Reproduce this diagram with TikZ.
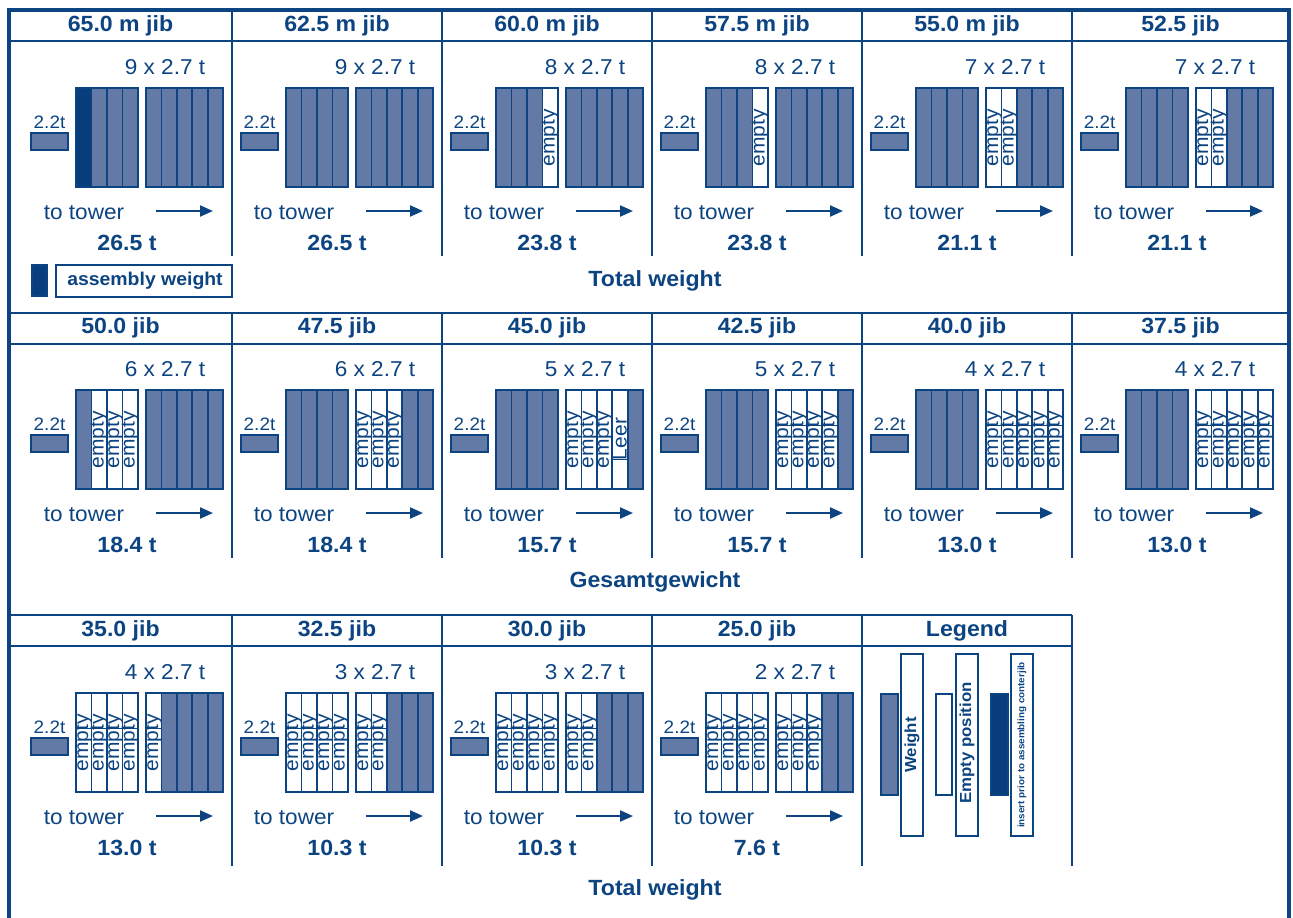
\documentclass[tikz,border=0pt]{standalone}
\usepackage{fontspec}
\setmainfont{Liberation Sans}[FakeStretch=1.05]
\usetikzlibrary{arrows.meta}
\definecolor{navy}{RGB}{12,68,130}
\definecolor{mid}{RGB}{99,121,166}
\definecolor{dark}{RGB}{8,62,124}
\tikzset{
  gridline/.style={draw=navy, line width=2.2pt},
  frameline/.style={draw=navy, line width=3.5pt, line join=miter},
  slotF/.style={fill=mid, draw=navy, line width=1.8pt},
  slotD/.style={fill=dark, draw=navy, line width=1.8pt},
  slotE/.style={fill=white, draw=navy, line width=1.8pt},
  slotL/.style={fill=white, draw=navy, line width=1.8pt},
  blockline/.style={draw=navy, line width=2.4pt},
  legline/.style={draw=navy, line width=2pt},
  thinline/.style={draw=navy, line width=0.7pt},
  txt/.style={text=navy, inner sep=0pt, font=\fontsize{21.5}{24}\selectfont},
  btxt/.style={text=navy, inner sep=0pt, font=\bfseries\fontsize{22}{24}\selectfont},
  smalltxt/.style={text=navy, inner sep=0pt, font=\fontsize{18}{20}\selectfont},
  slottxt/.style={text=navy, inner sep=0pt, rotate=90, font=\fontsize{20}{22}\selectfont},
  legtxt/.style={text=navy, inner sep=0pt, rotate=90, font=\bfseries\fontsize{16}{18}\selectfont},
  arr/.style={draw=navy, line width=2.2pt, -{Triangle[length=13pt,width=11pt]}},
}
% #1 column, #2 row offset, #3 header, #4 count, #5 total, #6 block 1, #7 block 2, #8 id, #9 thin line flag
\newcommand{\jibcol}[9]{%
  \pgfmathsetmacro{\xo}{31+210*#1}%
  \ifcase#1 \def\hx{120.5}\or\def\hx{337}\or\def\hx{547}\or\def\hx{757}\or\def\hx{967}\or\def\hx{1180.5}\fi
  \node[btxt] (h#8) at (\hx, 25.5+#2) {#3};
  \node[txt] (n#8) at (\xo+134, 67+#2) {#4};
  \node[smalltxt] (s#8) at (\xo+18.5, 122+#2) {2.2t};
  \path[slotF] (\xo, 133+#2) rectangle (\xo+37, 150+#2);
  \foreach \s [count=\i from 0] in {#6} {
    \path[slot\s] (\xo+45+15.5*\i, 88+#2) rectangle ++(15.5, 99);
    \if\s E\node[slottxt] (e#8a\i) at (\xo+45+15.5*\i+7.75, 138+#2) {empty};
      \ifnum#9=1 \draw[thinline] (\xo+45+15.5*\i, 123+#2) -- ++(15.5,0);\fi\fi
  }
  \foreach \s [count=\i from 0] in {#7} {
    \path[slot\s] (\xo+115+15.4*\i, 88+#2) rectangle ++(15.4, 99);
    \if\s E\node[slottxt] (e#8b\i) at (\xo+115+15.4*\i+7.7, 138+#2) {empty};
      \ifnum#9=1 \draw[thinline] (\xo+115+15.4*\i, 123+#2) -- ++(15.4,0);\fi\fi
    \if\s L\node[slottxt] (l#8b\i) at (\xo+115+15.4*\i+7.7, 137+#2) {Leer};
      \draw[thinline] (\xo+115+15.4*\i, 157+#2) -- ++(15.4,0);\fi
  }
  \draw[blockline] (\xo+45, 88+#2) rectangle (\xo+107, 187+#2);
  \draw[blockline] (\xo+115, 88+#2) rectangle (\xo+192, 187+#2);
  \node[txt] (t#8) at (\xo+53, 213+#2) {to tower};
  \coordinate (p#8) at (\xo+125, 211+#2);
  \coordinate (q#8) at (\xo+182, 211+#2);
  \draw[arr] (p#8) -- (q#8);
  \node[btxt] (w#8) at (\xo+96, 243+#2) {#5};
}
\begin{document}
\begin{tikzpicture}[x=1pt, y=-1pt]
  \useasboundingbox (0,0) rectangle (1293,918);
  % frame
  \draw[frameline] (9,918) -- (9,10) -- (1289,10) -- (1289,918);
  % row 1 grid
  \draw[gridline] (9,41) -- (1289,41);
  \foreach \x in {232,442,652,862,1072} \draw[gridline] (\x,10) -- (\x,256);
  % row 2 grid
  \draw[gridline] (9,313) -- (1289,313);
  \draw[gridline] (9,344) -- (1289,344);
  \foreach \x in {232,442,652,862,1072} \draw[gridline] (\x,313) -- (\x,558);
  % row 3 grid
  \draw[gridline] (9,615) -- (1072,615);
  \draw[gridline] (9,646) -- (1072,646);
  \foreach \x in {232,442,652,862,1072} \draw[gridline] (\x,615) -- (\x,866);

  \jibcol{0}{0}{65.0 m jib}{9 x 2.7 t}{26.5 t}{D,F,F,F}{F,F,F,F,F}{a1}{0}
  \jibcol{1}{0}{62.5 m jib}{9 x 2.7 t}{26.5 t}{F,F,F,F}{F,F,F,F,F}{a2}{0}
  \jibcol{2}{0}{60.0 m jib}{8 x 2.7 t}{23.8 t}{F,F,F,E}{F,F,F,F,F}{a3}{0}
  \jibcol{3}{0}{57.5 m jib}{8 x 2.7 t}{23.8 t}{F,F,F,E}{F,F,F,F,F}{a4}{0}
  \jibcol{4}{0}{55.0 m jib}{7 x 2.7 t}{21.1 t}{F,F,F,F}{E,E,F,F,F}{a5}{0}
  \jibcol{5}{0}{52.5 jib}{7 x 2.7 t}{21.1 t}{F,F,F,F}{E,E,F,F,F}{a6}{0}

  \jibcol{0}{302}{50.0 jib}{6 x 2.7 t}{18.4 t}{F,E,E,E}{F,F,F,F,F}{b1}{0}
  \jibcol{1}{302}{47.5 jib}{6 x 2.7 t}{18.4 t}{F,F,F,F}{E,E,E,F,F}{b2}{0}
  \jibcol{2}{302}{45.0 jib}{5 x 2.7 t}{15.7 t}{F,F,F,F}{E,E,E,L,F}{b3}{0}
  \jibcol{3}{302}{42.5 jib}{5 x 2.7 t}{15.7 t}{F,F,F,F}{E,E,E,E,F}{b4}{1}
  \jibcol{4}{302}{40.0 jib}{4 x 2.7 t}{13.0 t}{F,F,F,F}{E,E,E,E,E}{b5}{1}
  \jibcol{5}{302}{37.5 jib}{4 x 2.7 t}{13.0 t}{F,F,F,F}{E,E,E,E,E}{b6}{1}

  \jibcol{0}{605}{35.0 jib}{4 x 2.7 t}{13.0 t}{E,E,E,E}{E,F,F,F,F}{c1}{1}
  \jibcol{1}{605}{32.5 jib}{3 x 2.7 t}{10.3 t}{E,E,E,E}{E,E,F,F,F}{c2}{1}
  \jibcol{2}{605}{30.0 jib}{3 x 2.7 t}{10.3 t}{E,E,E,E}{E,E,F,F,F}{c3}{1}
  \jibcol{3}{605}{25.0 jib}{2 x 2.7 t}{7.6 t}{E,E,E,E}{E,E,E,F,F}{c4}{1}

  % assembly weight legend (row 1)
  \path[slotD] (32,265) rectangle (47,296);
  \draw[legline] (56,265) rectangle (232,297);
  \node[btxt, font=\bfseries\fontsize{18.5}{20}\selectfont] (asm) at (145,281) {assembly weight};

  % bottom texts
  \node[btxt] (tw1) at (655,281) {Total weight};
  \node[btxt] (gw) at (655,582) {Gesamtgewicht};
  \node[btxt] (tw3) at (655,890) {Total weight};

  % legend cell
  \node[btxt] (hleg) at (967,630.5) {Legend};
  \path[slotF] (881,694) rectangle (898,795);
  \draw[legline] (901,654) rectangle (923,836);
  \node[legtxt] (lw) at (912,745) {Weight};
  \path[slotE] (936,694) rectangle (952,795);
  \draw[legline] (956,654) rectangle (978,836);
  \node[legtxt] (le) at (967,743) {Empty position};
  \path[slotD] (991,694) rectangle (1008,795);
  \draw[legline] (1011,654) rectangle (1033,836);
  \node[legtxt, font=\bfseries\fontsize{9.4}{11}\selectfont] (li) at (1022,745) {insert prior to assembling conterjib};
\end{tikzpicture}
\end{document}
